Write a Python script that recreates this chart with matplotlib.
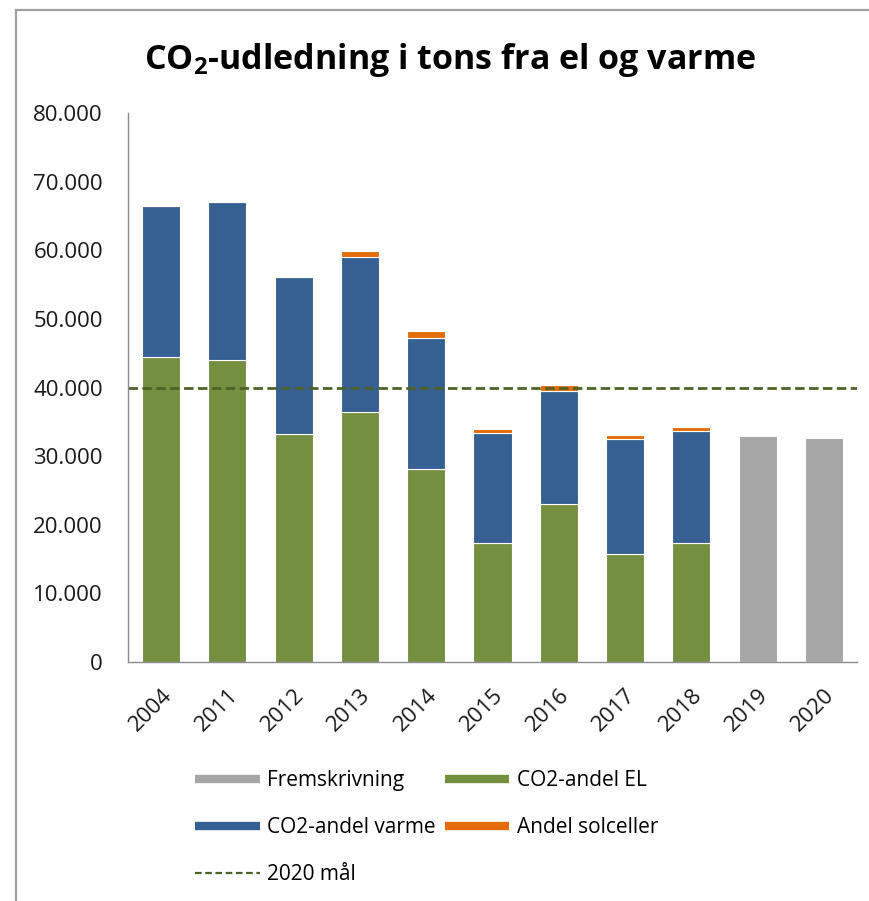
import matplotlib
matplotlib.use('Agg')
import matplotlib.pyplot as plt
import numpy as np
from matplotlib.lines import Line2D
from matplotlib.ticker import FuncFormatter

plt.rcParams['font.family'] = ['Open Sans', 'DejaVu Sans']
plt.rcParams['mathtext.fontset'] = 'custom'
plt.rcParams['mathtext.rm'] = 'Open Sans:bold'

years = ['2004', '2011', '2012', '2013', '2014', '2015', '2016', '2017', '2018', '2019', '2020']
co2_el = [44500, 44000, 33200, 36500, 28100, 17400, 23000, 15800, 17400, 0, 0]
co2_varme = [22000, 23000, 22900, 22500, 19100, 16000, 16500, 16700, 16200, 0, 0]
solceller = [0, 0, 0, 900, 1100, 600, 800, 600, 700, 0, 0]
fremskrivning = [0, 0, 0, 0, 0, 0, 0, 0, 0, 33000, 32700]
maal_2020 = 40000

c_grey = '#A6A6A6'
c_green = '#758F40'
c_blue = '#366092'
c_orange = '#E46C0A'
c_dash = '#4F6228'

fig = plt.figure(figsize=(8.7, 9.01), dpi=100)
ax = fig.add_axes([128/870, 1 - 662/901, (857-128)/870, (662-113)/901])

x = np.arange(len(years))
w = 0.575
el = np.array(co2_el)
va = np.array(co2_varme)
ax.bar(x, fremskrivning, w, color=c_grey, edgecolor='white', linewidth=0.8)
ax.bar(x, el, w, color=c_green, edgecolor='white', linewidth=0.8)
ax.bar(x, va, w, bottom=el, color=c_blue, edgecolor='white', linewidth=0.8)
ax.bar(x, solceller, w, bottom=el + va, color=c_orange, edgecolor='white', linewidth=0.8)
ax.axhline(maal_2020, color=c_dash, lw=2.0, linestyle=(0, (3.4, 1.6)))

ax.set_xlim(-0.5, len(years) - 0.5)
ax.set_ylim(0, 80000)
ax.set_yticks(np.arange(0, 80001, 10000))
ax.yaxis.set_major_formatter(FuncFormatter(lambda v, p: f'{int(v):,}'.replace(',', '.')))
ax.set_xticks(x)
ax.set_xticklabels(years, rotation=45, ha='right', va='top', rotation_mode='anchor')
ax.tick_params(axis='y', length=0, pad=18, labelsize=16, colors='#1a1a1a')
ax.tick_params(axis='x', length=0, pad=16, labelsize=16, colors='#1a1a1a')
for s in ['top', 'right']:
    ax.spines[s].set_visible(False)
for s in ['left', 'bottom']:
    ax.spines[s].set_color('#8C8C8C')
    ax.spines[s].set_linewidth(1)

fig.text(450/870, 1 - 60/901, r'CO$_2$-udledning i tons fra el og varme',
         ha='center', va='center', fontsize=24.5, fontweight='bold')

handles = [
    Line2D([], [], color=c_grey, lw=6, solid_capstyle='butt'),
    Line2D([], [], color=c_blue, lw=6, solid_capstyle='butt'),
    Line2D([], [], color=c_dash, lw=1.6, linestyle=(0, (3, 1.6))),
    Line2D([], [], color=c_green, lw=6, solid_capstyle='butt'),
    Line2D([], [], color=c_orange, lw=6, solid_capstyle='butt'),
]
labels = ['Fremskrivning', 'CO2-andel varme', '2020 mål', 'CO2-andel EL', 'Andel solceller']
fig.legend(handles, labels, ncol=2, loc='upper left', bbox_to_anchor=(195/870, 1 - 770/901),
           frameon=False, fontsize=15, handlelength=3.1, handletextpad=0.35,
           columnspacing=0.45, labelspacing=1.25, borderpad=0, borderaxespad=0)

# chart frame (top and left edge visible)
fig.add_artist(Line2D([16/870, 1], [1 - 10/901, 1 - 10/901], color='#A0A0A0', lw=1.6))
fig.add_artist(Line2D([16/870, 16/870], [0, 1 - 10/901], color='#A0A0A0', lw=1.6))

fig.savefig('out.png', dpi=100)
